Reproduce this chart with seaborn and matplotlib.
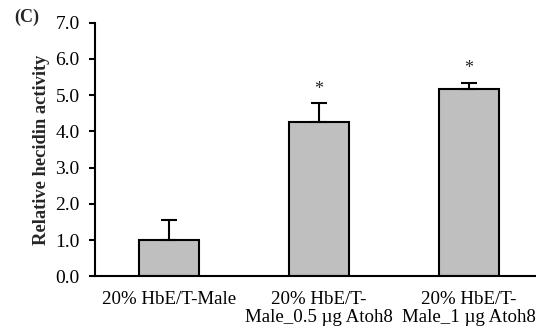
import matplotlib
matplotlib.use("Agg")
import matplotlib.pyplot as plt
import seaborn as sns
import pandas as pd

# Hepcidin promoter activity (mean ± SD)
groups = ["20% HbE/T-Male",
          "20% HbE/T-\nMale_0.5 \u00b5g Atoh8",
          "20% HbE/T-\nMale_1 \u00b5g Atoh8"]
means = [1.0, 4.26, 5.16]
sds = [0.56, 0.52, 0.18]
marks = ["", "*", "*"]
yticks = [0.0, 1.0, 2.0, 3.0, 4.0, 5.0, 6.0, 7.0]

sns.set_theme(style="white")
plt.rcParams["font.family"] = ["Liberation Serif", "DejaVu Serif"]

df = pd.DataFrame({"group": groups, "mean": means})

fig = plt.figure(figsize=(5.36, 3.33), dpi=100)
ax = fig.add_axes([95 / 536, 1 - 276.3 / 333, (536 - 95) / 536, (276.3 - 22.7) / 333])

sns.barplot(data=df, x="group", y="mean", color="#BFBFBF", width=0.4,
            edgecolor="black", linewidth=1.5, saturation=1, ax=ax, errorbar=None)

ax.errorbar(range(len(groups)), means, yerr=[[0] * len(sds), sds], fmt="none",
            ecolor="black", elinewidth=1.5, capsize=5.5, capthick=1.5, zorder=3)

for i, (m, s, t) in enumerate(zip(means, sds, marks)):
    if t:
        ax.text(i, m + s + 0.15, t, ha="center", va="bottom", fontsize=13)

ax.set_xlim(-0.493, 2.447)
ax.set_ylim(0, 7.0)
ax.set_yticks(yticks)
ax.set_yticklabels([f"{v:.1f}" for v in yticks], fontsize=14)
ax.tick_params(axis="y", which="both", direction="out", length=4, width=1.5,
               left=True, colors="black", pad=7)
ax.tick_params(axis="x", length=0, pad=10.5, colors="black")
for lbl in ax.get_xticklabels():
    lbl.set_fontsize(13.6)
    lbl.set_linespacing(1.08)
ax.set_xlabel("")
ax.set_ylabel("Relative hecidin activity", fontsize=13.3, fontweight="bold", labelpad=4)

for side in ["top", "right"]:
    ax.spines[side].set_visible(False)
for side in ["left", "bottom"]:
    ax.spines[side].set_color("black")
    ax.spines[side].set_linewidth(1.5)

fig.text(14 / 536, 1 - 17 / 333, "(C)", fontsize=13, fontweight="bold",
         ha="left", va="center")

fig.savefig("out.png", dpi=100)
